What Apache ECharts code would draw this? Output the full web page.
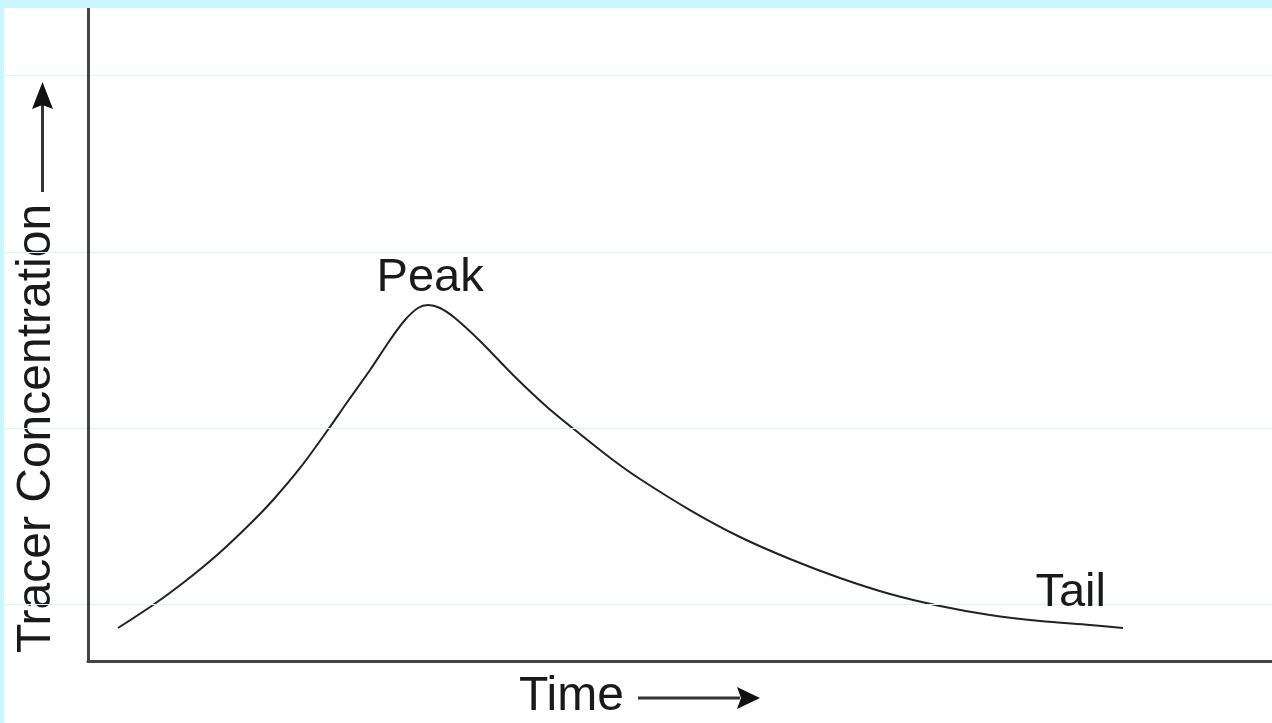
<!DOCTYPE html>
<html>
<head>
<meta charset="utf-8">
<script src="https://cdn.jsdelivr.net/npm/echarts@6/dist/echarts.min.js"></script>
<style>
  html, body { margin: 0; padding: 0; background: #ccf5ff; width: 1272px; height: 723px; overflow: hidden; }
  #chart { position: absolute; left: 4px; top: 8px; width: 1268px; height: 715px; background: #ffffff; }
</style>
</head>
<body>
<div id="chart"></div>
<script>
// Time (0-100) and tracer concentration (0-100)
const timeValues = [2.53, 5.49, 8.02, 10.90, 13.68, 15.63, 17.91, 20.19, 21.96, 23.82, 25.51, 26.77, 27.87, 28.72, 29.73, 30.99, 33.11, 35.90, 38.77, 41.55, 44.34, 46.62, 50.84, 55.07, 59.29, 63.51, 67.74, 71.96, 76.18, 80.41, 84.63, 87.42];
const concValues = [5.05, 8.58, 11.94, 16.23, 20.98, 24.66, 29.56, 35.22, 39.82, 44.56, 49.16, 52.22, 54.06, 54.52, 54.06, 52.53, 49.01, 43.80, 38.90, 34.76, 30.78, 27.87, 23.12, 18.99, 15.62, 12.71, 10.26, 8.42, 7.04, 6.13, 5.51, 5.05];
const gridLevels = [8.73, 35.68, 62.63, 89.74];
const annotationNames = ['Peak', 'Tail'];
const annotationTime = [28.9, 83.0];
const annotationConc = [58.7, 10.4];
const xTitle = 'Time';
const yTitle = 'Tracer Concentration';

const curve = timeValues.map((t, i) => [t, concValues[i]]);
const FONT = '"Liberation Sans", Arial, Helvetica, sans-serif';

const chart = echarts.init(document.getElementById('chart'));
chart.setOption({
  animation: false,
  grid: [
    { left: 84, right: 0, top: 0, bottom: 62 },
    { left: 0, right: 0, top: 0, bottom: 62 }
  ],
  xAxis: [
    { type: 'value', gridIndex: 0, min: 0, max: 100,
      axisLine: { show: true, lineStyle: { color: '#444', width: 3 } },
      axisTick: { show: false }, axisLabel: { show: false }, splitLine: { show: false }, z: 5 },
    { type: 'value', gridIndex: 1, min: 0, max: 100, show: false }
  ],
  yAxis: [
    { type: 'value', gridIndex: 0, min: 0, max: 100,
      axisLine: { show: true, lineStyle: { color: '#444', width: 3 } },
      axisTick: { show: false }, axisLabel: { show: false }, splitLine: { show: false }, z: 5 },
    { type: 'value', gridIndex: 1, min: 0, max: 100, show: false }
  ],
  series: [
    {
      type: 'line', xAxisIndex: 1, yAxisIndex: 1, data: [], silent: true, z: 1,
      markLine: {
        silent: true, symbol: 'none', label: { show: false },
        lineStyle: { color: '#d6f6fb', width: 1, type: 'solid' },
        data: gridLevels.map(v => ({ yAxis: v }))
      }
    },
    {
      type: 'line', xAxisIndex: 0, yAxisIndex: 0, data: curve, smooth: 0.3,
      symbol: 'none', z: 3,
      lineStyle: { color: '#222', width: 2 },
      markPoint: {
        symbol: 'circle', symbolSize: 0,
        label: { show: true, position: 'inside', color: '#1a1a1a', fontSize: 47, fontFamily: FONT,
          formatter: p => p.name },
        data: annotationNames.map((n, i) => ({ name: n, coord: [annotationTime[i], annotationConc[i]] }))
      }
    }
  ],
  graphic: [
    { type: 'text', x: 515, y: 689, style: { text: xTitle, fill: '#1a1a1a', font: '48px ' + FONT, textAlign: 'left', textVerticalAlign: 'middle' } },
    { type: 'line', shape: { x1: 634, y1: 690, x2: 736, y2: 690 }, style: { stroke: '#333', lineWidth: 3 } },
    { type: 'polygon', shape: { points: [[756, 690], [733, 679], [737, 690], [733, 701]] }, style: { fill: '#111' } },
    { type: 'text', x: 33, y: 645, rotation: Math.PI / 2, style: { text: yTitle, fill: '#1a1a1a', font: '48px ' + FONT, textAlign: 'left', textVerticalAlign: 'middle' } },
    { type: 'line', shape: { x1: 38.5, y1: 184, x2: 38.5, y2: 96 }, style: { stroke: '#333', lineWidth: 3 } },
    { type: 'polygon', shape: { points: [[38.5, 74], [28, 101], [38.5, 97], [49, 101]] }, style: { fill: '#111' } }
  ]
});
</script>
</body>
</html>
